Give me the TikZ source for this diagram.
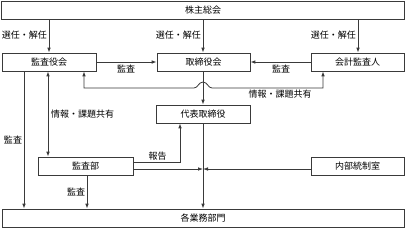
\documentclass[tikz,border=0pt]{standalone}
\usepackage{fontspec}
\newfontfamily\jp{Noto Sans CJK JP}
\usetikzlibrary{arrows.meta}
\definecolor{ln}{HTML}{3A3A3A}
\begin{document}
\begin{tikzpicture}[x=1pt,y=-1pt,
  box/.style={draw=ln,line width=0.7pt,minimum height=18pt,inner sep=0pt,font=\jp\fontsize{9}{11}\selectfont,text=black},
  lbl/.style={inner sep=0pt,font=\jp\fontsize{9}{11}\selectfont,text=black},
  arr/.style={draw=ln,line width=0.8pt,-{Latex[length=5pt,width=3.6pt]}},
  darr/.style={draw=ln,line width=0.8pt,{Latex[length=5pt,width=3.6pt]}-{Latex[length=5pt,width=3.6pt]}}]
\useasboundingbox (0,0) rectangle (406,228);
% boxes
\node[box,minimum width=403pt] (kabu) at (203,10) {株主総会};
\node[box,minimum width=94pt] (kansayaku) at (49,62) {監査役会};
\node[box,minimum width=93pt] (tori) at (203.5,62) {取締役会};
\node[box,minimum width=93pt] (kaikei) at (357.5,62) {会計監査人};
\node[box,minimum width=94pt] (daihyo) at (203,114) {代表取締役};
\node[box,minimum width=95pt] (kansabu) at (85.5,166) {監査部};
\node[box,minimum width=93pt] (naibu) at (357.5,166) {内部統制室};
\node[box,minimum width=402pt] (gyomu) at (203,218) {各業務部門};
% coordinates
\coordinate (c1) at (49,0);
\coordinate (c2) at (203,0);
\coordinate (c3) at (358,0);
\coordinate (hA) at (84,88);
\coordinate (hB) at (323,88);
\coordinate (v1) at (24,0);
\coordinate (v2) at (48,0);
\coordinate (v3) at (87,0);
\coordinate (r1) at (180,162);
\coordinate (r2) at (203,169);
% election arrows
\draw[arr] (kabu.south -| c1) -- (kansayaku.north -| c1);
\draw[arr] (kabu.south -| c2) -- (tori.north -| c2);
\draw[arr] (kabu.south -| c3) -- (kaikei.north -| c3);
\node[lbl,anchor=east] (s1) at (47,35) {選任・解任};
\node[lbl,anchor=east] (s2) at (201,35) {選任・解任};
\node[lbl,anchor=east] (s3) at (356,35) {選任・解任};
% audit arrows between top boxes
\draw[arr] (kansayaku.east) -- (tori.west);
\draw[arr] (kaikei.west) -- (tori.east);
\node[lbl] (k1) at (126,69) {監査};
\node[lbl] (k2) at (281,69) {監査};
% info sharing with hop
\draw[darr] (kaikei.south -| hB) -- (hB) -- (212,88)
  .. controls (208,88) and (207.5,82) .. (203,82)
  .. controls (198.5,82) and (198,88) .. (194,88)
  -- (hA) -- (kansayaku.south -| hA);
\node[lbl] (j1) at (280,94) {情報・課題共有};
% torishimari to daihyo
\draw[arr] (tori.south -| c2) -- (daihyo.north -| c2);
% daihyo to gyomu
\draw[arr] (daihyo.south -| c2) -- (gyomu.north -| c2);
% left audit
\draw[arr] (kansayaku.south -| v1) -- (gyomu.north -| v1);
\node[lbl] (k3) at (13,140) {監査};
% info sharing left
\draw[darr] (kansayaku.south -| v2) -- (kansabu.north -| v2);
\node[lbl,anchor=west] (j2) at (51,114) {情報・課題共有};
% report
\draw[arr] (kansabu.east |- r1) -| (daihyo.south -| r1);
\node[lbl] (h1) at (157.5,156) {報告};
\draw[arr] (kansabu.east |- r2) -- (r2);
\draw[arr] (naibu.west |- r2) -- (r2);
% kansabu audit
\draw[arr] (kansabu.south -| v3) -- (gyomu.north -| v3);
\node[lbl] (k4) at (76,191.5) {監査};
\end{tikzpicture}
\end{document}
